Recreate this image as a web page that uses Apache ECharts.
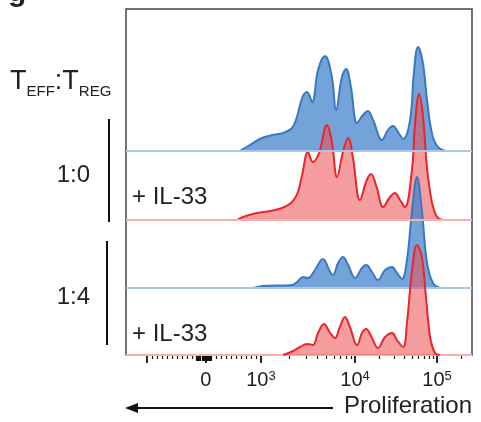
<!DOCTYPE html>
<html>
<head>
<meta charset="utf-8">
<script src="https://cdn.jsdelivr.net/npm/echarts@6/dist/echarts.min.js"></script>
<style>
    html, body { margin: 0; padding: 0; background: #ffffff; }
    #show_charts { width: 481px; height: 422px; }
</style>
</head>
<body>
<div id="show_charts"></div>
<script>
// channel scale of the proliferation dye, 0..1000 across the plot box
var decadeLabels = ['0', '10{s|3}', '10{s|4}', '10{s|5}'];
var decadeChannels = [231, 390, 662, 899];
var negDecadeChannel = 61;

// histograms, normalised to mode
var effX = [329, 358, 393, 425, 454, 480, 494, 509, 523, 538, 555, 575, 595, 607, 624, 636, 650, 668, 685, 699, 714, 740, 757, 772, 786, 801, 821, 832, 844, 858, 870, 884, 899, 922];
var effY = [0, 6, 13, 16, 18, 23, 34, 53, 59, 49, 81, 95, 74, 41, 74, 82, 64, 28, 36, 40, 31, 11, 21, 25, 19, 12, 31, 78, 104, 88, 51, 18, 5, 0];

var effIL33X = [321, 338, 379, 416, 451, 480, 497, 509, 526, 540, 558, 581, 595, 610, 627, 642, 656, 676, 696, 708, 725, 743, 763, 777, 792, 806, 827, 835, 847, 858, 870, 884, 899, 916];
var effIL33Y = [0, 3, 7, 9, 12, 18, 28, 45, 68, 58, 67, 95, 78, 43, 68, 82, 62, 20, 40, 46, 32, 13, 23, 27, 20, 13, 52, 95, 126, 105, 52, 18, 3, 0];

var regX = [367, 396, 480, 494, 512, 526, 546, 569, 590, 598, 613, 627, 642, 662, 682, 694, 711, 728, 749, 769, 783, 798, 812, 827, 841, 855, 870, 887, 907];
var regY = [0, 2, 3, 6, 11, 10, 18, 29, 16, 13, 25, 31, 23, 10, 20, 23, 16, 8, 18, 21, 15, 9, 28, 78, 111, 78, 25, 5, 0];

var regIL33X = [454, 483, 503, 523, 540, 555, 572, 590, 604, 618, 633, 647, 668, 682, 694, 711, 728, 749, 769, 783, 801, 812, 827, 841, 855, 867, 879, 893, 907];
var regIL33Y = [0, 4, 8, 11, 10, 22, 31, 22, 17, 28, 38, 28, 10, 22, 26, 17, 7, 18, 22, 15, 8, 32, 85, 110, 98, 58, 18, 2, 0];

var rowBaselines = [151, 220, 288, 355];
var rowHeight = 68;
var fontName = '"Liberation Sans", Arial, sans-serif';

function zip(xs, ys) {
    var out = [];
    for (var i = 0; i < xs.length; i++) out.push([xs[i], ys[i]]);
    return out;
}

// minor ticks: linear part round zero, then 2..9 inside each decade
var minorTicks = [75, 90, 104, 119, 133, 147, 162, 176, 191,
    260, 275, 289, 303, 318, 332, 347, 361, 376];
for (var d = 1; d < 3; d++) {
    var a = decadeChannels[d], b = decadeChannels[d + 1];
    for (var m = 2; m < 10; m++) minorTicks.push(Math.round(a + (b - a) * Math.log10(m)));
}
minorTicks.push(Math.round(899 + 237 * Math.log10(2)));
// packed ticks right round zero
var zeroTicks = [];
for (var z = 204; z <= 248; z += 3) zeroTicks.push(z);

var rows = [
    { data: zip(effX, effY), line: '#3a78c2', fill: 'rgba(62,128,202,0.72)', base: '#a9c7e9' },
    { data: zip(effIL33X, effIL33Y), line: '#e8262b', fill: 'rgba(238,78,80,0.55)', base: '#f6b0b0' },
    { data: zip(regX, regY), line: '#3a78c2', fill: 'rgba(62,128,202,0.72)', base: '#a9c7e9' },
    { data: zip(regIL33X, regIL33Y), line: '#e8262b', fill: 'rgba(238,78,80,0.55)', base: '#f6b0b0' }
];

var grids = [], xAxes = [], yAxes = [], series = [];
for (var i = 0; i < rows.length; i++) {
    grids.push({ left: 126, right: 9, top: rowBaselines[i] - rowHeight, height: rowHeight });
    xAxes.push({ type: 'value', gridIndex: i, min: 0, max: 1000, show: false });
    yAxes.push({ type: 'value', gridIndex: i, min: 0, max: rowHeight, show: false });
    series.push({
        type: 'line',
        xAxisIndex: i,
        yAxisIndex: i,
        data: rows[i].data,
        smooth: 0.4,
        symbol: 'none',
        clip: false,
        lineStyle: { color: rows[i].line, width: 2 },
        areaStyle: { color: rows[i].fill, opacity: 1 },
        markLine: {
            silent: true,
            symbol: 'none',
            label: { show: false },
            lineStyle: { color: rows[i].base, width: 2, type: 'solid' },
            data: [{ yAxis: 0 }]
        },
        z: 2 + i
    });
}

// frame + dye axis
grids.push({ left: 126, right: 9, top: 9, height: 346, show: true, borderColor: '#444', borderWidth: 1.5, backgroundColor: 'transparent' });
xAxes.push({
    type: 'value', gridIndex: 4, min: 0, max: 1000, position: 'bottom',
    axisLine: { show: false }, splitLine: { show: false },
    axisTick: { show: true, length: 8, customValues: [negDecadeChannel].concat(decadeChannels), lineStyle: { color: '#111', width: 1.8 } },
    axisLabel: {
        customValues: decadeChannels,
        margin: 15,
        formatter: function (v) { return decadeLabels[decadeChannels.indexOf(v)]; },
        color: '#222', fontSize: 20, fontFamily: fontName,
        rich: { s: { fontSize: 13, verticalAlign: 'top', lineHeight: 12, fontFamily: fontName, color: '#222' } }
    }
});
xAxes.push({
    type: 'value', gridIndex: 4, min: 0, max: 1000, position: 'bottom',
    axisLine: { show: false }, splitLine: { show: false }, axisLabel: { show: false },
    axisTick: { show: true, length: 4, customValues: minorTicks, lineStyle: { color: '#111', width: 1.2 } }
});
xAxes.push({
    type: 'value', gridIndex: 4, min: 0, max: 1000, position: 'bottom',
    axisLine: { show: false }, splitLine: { show: false }, axisLabel: { show: false },
    axisTick: { show: true, length: 6, customValues: zeroTicks, lineStyle: { color: '#111', width: 1.2 } }
});
yAxes.push({ type: 'value', gridIndex: 4, min: 0, max: 1, show: false });

var textStyle = { fontSize: 24, fontFamily: fontName, fill: '#222' };

var option = {
    animation: false,
    grid: grids,
    xAxis: xAxes,
    yAxis: yAxes,
    series: series,
    graphic: [
        { type: 'text', left: 8, top: -22, style: { text: 'g', fontSize: 30, fontWeight: 'bold', fontFamily: fontName, fill: '#222' } },
        { type: 'text', x: 10, y: 65, style: {
            text: '{t|T}{s|EFF}{t|:T}{s|REG}',
            rich: {
                t: { fontSize: 27, lineHeight: 34, fontFamily: fontName, fill: '#222' },
                s: { fontSize: 15, lineHeight: 15, verticalAlign: 'bottom', fontFamily: fontName, fill: '#222' }
            }
        } },
        { type: 'text', x: 90, y: 175, style: Object.assign({ text: '1:0', align: 'right', verticalAlign: 'middle' }, textStyle) },
        { type: 'text', x: 90, y: 297, style: Object.assign({ text: '1:4', align: 'right', verticalAlign: 'middle' }, textStyle) },
        { type: 'line', shape: { x1: 109, y1: 119, x2: 109, y2: 222 }, style: { stroke: '#111', lineWidth: 2 } },
        { type: 'line', shape: { x1: 107, y1: 241, x2: 107, y2: 345 }, style: { stroke: '#111', lineWidth: 2 } },
        { type: 'text', x: 132, y: 197, z: 20, style: Object.assign({ text: '+ IL-33', verticalAlign: 'middle' }, textStyle) },
        { type: 'text', x: 132, y: 334, z: 20, style: Object.assign({ text: '+ IL-33', verticalAlign: 'middle' }, textStyle) },
        { type: 'line', shape: { x1: 134, y1: 408, x2: 333, y2: 408 }, style: { stroke: '#111', lineWidth: 2 } },
        { type: 'polygon', shape: { points: [[125, 408], [138, 403], [138, 413]] }, style: { fill: '#111' } },
        { type: 'text', x: 344, y: 406, style: Object.assign({ text: 'Proliferation', verticalAlign: 'middle' }, textStyle) }
    ]
};

var myChart = echarts.init(document.getElementById('show_charts'));
myChart.setOption(option);
</script>
</body>
</html>
